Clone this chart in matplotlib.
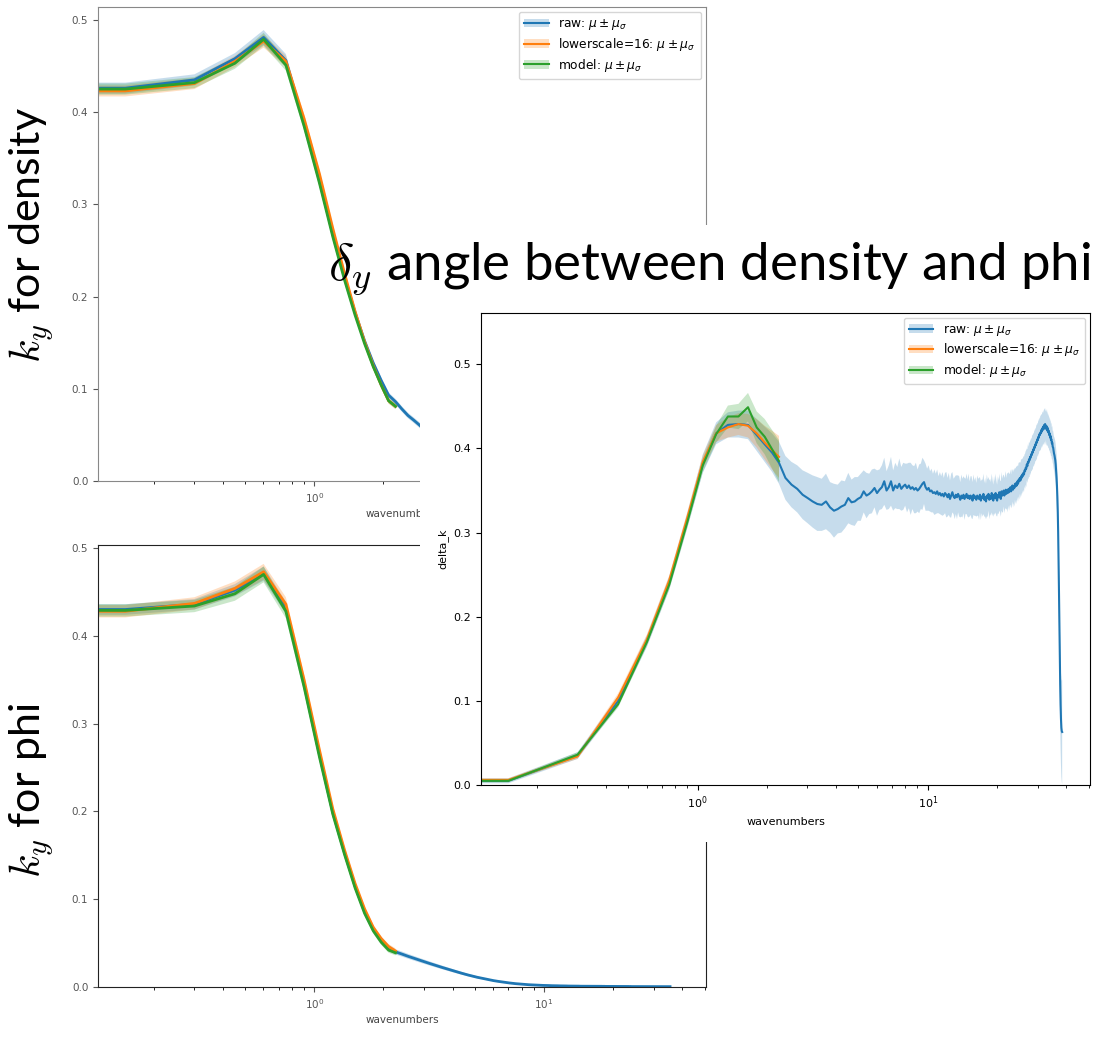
import numpy as np
import matplotlib
matplotlib.use("Agg")
import matplotlib.pyplot as plt
from matplotlib.patches import Rectangle, Patch
from matplotlib.lines import Line2D

W, H = 1107, 1061

# wavenumber grid (k = n * dk), first point k=0 is clipped to the left edge on the log axis
dk = 0.1505
wavenumbers = dk * np.arange(256)

labels = ["raw: $\\mu \\pm \\mu_\\sigma$",
          "lowerscale=16: $\\mu \\pm \\mu_\\sigma$",
          "model: $\\mu \\pm \\mu_\\sigma$"]
colors = ["#1f77b4", "#ff7f0e", "#2ca02c"]

# ---- k_y for density ----
dens_raw = [0.426, 0.426, 0.435, 0.458, 0.481, 0.456, 0.388, 0.326, 0.268, 0.221,
            0.183, 0.152, 0.128, 0.109, 0.093, 0.086, 0.078, 0.071, 0.066, 0.061,
            0.056, 0.052, 0.048, 0.045, 0.042]
dens_raw_sd = [0.006, 0.006, 0.006, 0.006, 0.008, 0.007, 0.006, 0.005, 0.005, 0.004,
               0.004, 0.004, 0.003, 0.003, 0.003, 0.003, 0.003, 0.003, 0.003, 0.003,
               0.003, 0.003, 0.003, 0.003, 0.003]
dens_low = [0.422, 0.423, 0.431, 0.455, 0.477, 0.455, 0.393, 0.333, 0.274, 0.225,
            0.184, 0.151, 0.125, 0.104, 0.087, 0.081]
dens_low_sd = [0.006, 0.006, 0.006, 0.006, 0.007, 0.006, 0.005, 0.004, 0.004, 0.004,
               0.003, 0.003, 0.003, 0.003, 0.003, 0.003]
dens_model = [0.424, 0.425, 0.432, 0.453, 0.479, 0.451, 0.385, 0.323, 0.265, 0.218,
              0.180, 0.149, 0.124, 0.104, 0.087, 0.081]
dens_model_sd = [0.006, 0.006, 0.006, 0.006, 0.007, 0.006, 0.005, 0.004, 0.004, 0.004,
                 0.003, 0.003, 0.003, 0.003, 0.003, 0.003]

# ---- k_y for phi ----
phi_raw = [0.430, 0.430, 0.436, 0.452, 0.471, 0.432, 0.345, 0.265, 0.199, 0.153,
           0.115, 0.086, 0.066, 0.054, 0.045, 0.040,
           0.0375, 0.0350, 0.0328, 0.0307, 0.0288, 0.0270, 0.0253, 0.0237, 0.0222, 0.0208,
           0.0194, 0.0181, 0.0169, 0.0158, 0.0147, 0.0137, 0.0128, 0.0119, 0.0111, 0.0104,
           0.0097, 0.0090, 0.0084, 0.0078, 0.0073, 0.0068, 0.0064, 0.0060, 0.0056, 0.0052,
           0.0049, 0.0046, 0.0043, 0.0040, 0.0038, 0.0036, 0.0034, 0.0032, 0.0030, 0.0028,
           0.0027, 0.0026, 0.0025, 0.0024, 0.0023, 0.0022, 0.0021, 0.0020, 0.0019, 0.0019,
           0.0018, 0.0018, 0.0017, 0.0017, 0.0016, 0.0016, 0.0015, 0.0015, 0.0014, 0.0014,
           0.0014, 0.0013, 0.0013, 0.0013, 0.0012, 0.0012, 0.0012, 0.0012, 0.0011, 0.0011,
           0.0011, 0.0011, 0.0011, 0.0010, 0.0010, 0.0010, 0.0010, 0.0010, 0.0010, 0.0009,
           0.0009, 0.0009, 0.0009, 0.0009, 0.0009, 0.0009, 0.0009, 0.0009, 0.0009, 0.0009,
           0.0009, 0.0008, 0.0009, 0.0008, 0.0008, 0.0008, 0.0008, 0.0008, 0.0008, 0.0008,
           0.0008, 0.0008, 0.0008, 0.0008, 0.0007, 0.0008, 0.0007, 0.0007, 0.0007, 0.0007,
           0.0007, 0.0007, 0.0007, 0.0007, 0.0007, 0.0007, 0.0007, 0.0007, 0.0007, 0.0007,
           0.0007, 0.0006, 0.0007, 0.0006, 0.0006, 0.0006, 0.0006, 0.0006, 0.0006, 0.0006,
           0.0006, 0.0006, 0.0006, 0.0006, 0.0006, 0.0006, 0.0006, 0.0006, 0.0006, 0.0006,
           0.0006, 0.0005, 0.0006, 0.0005, 0.0005, 0.0005, 0.0005, 0.0005, 0.0005, 0.0005,
           0.0005, 0.0005, 0.0005, 0.0005, 0.0005, 0.0005, 0.0005, 0.0005, 0.0005, 0.0005,
           0.0005, 0.0005, 0.0005, 0.0005, 0.0005, 0.0005, 0.0005, 0.0005, 0.0005, 0.0005,
           0.0005, 0.0004, 0.0005, 0.0004, 0.0004, 0.0004, 0.0004, 0.0004, 0.0004, 0.0004,
           0.0004, 0.0004, 0.0004, 0.0004, 0.0004, 0.0004, 0.0004, 0.0004, 0.0004, 0.0004,
           0.0004, 0.0004, 0.0004, 0.0004, 0.0004, 0.0004, 0.0004, 0.0004, 0.0004, 0.0004,
           0.0004, 0.0004, 0.0004, 0.0004, 0.0004, 0.0004, 0.0004, 0.0004, 0.0004, 0.0004,
           0.0004, 0.0004, 0.0004, 0.0004, 0.0004, 0.0004, 0.0004, 0.0004, 0.0004, 0.0004]
phi_raw_sd = [0.006, 0.006, 0.006, 0.007, 0.008, 0.007, 0.006, 0.005, 0.004, 0.004,
              0.003, 0.003, 0.003, 0.003, 0.003, 0.003,
              0.0029, 0.0028, 0.0027, 0.0026, 0.0025, 0.0024, 0.0023, 0.0022, 0.0021, 0.0020,
              0.0019, 0.0018, 0.0017, 0.0016, 0.0015, 0.0014, 0.0013, 0.0012, 0.0011, 0.0010,
              0.0010, 0.0009, 0.0009, 0.0008, 0.0008, 0.0007, 0.0007, 0.0007, 0.0006, 0.0006,
              0.0006, 0.0005, 0.0005, 0.0005, 0.0005, 0.0004, 0.0004, 0.0004, 0.0004, 0.0004,
              0.0004, 0.0003, 0.0003, 0.0003, 0.0003, 0.0003, 0.0003, 0.0003, 0.0003, 0.0003,
              0.0003, 0.0003, 0.0003, 0.0003, 0.0003, 0.0003, 0.0003, 0.0003, 0.0003, 0.0003,
              0.0003, 0.0003, 0.0003, 0.0003, 0.0003, 0.0003, 0.0003, 0.0003, 0.0003, 0.0003,
              0.0003, 0.0003, 0.0003, 0.0003, 0.0003, 0.0003, 0.0003, 0.0003, 0.0003, 0.0003,
              0.0003, 0.0003, 0.0003, 0.0003, 0.0003, 0.0003, 0.0003, 0.0003, 0.0003, 0.0003,
              0.0002, 0.0002, 0.0002, 0.0002, 0.0002, 0.0002, 0.0002, 0.0002, 0.0002, 0.0002,
              0.0002, 0.0002, 0.0002, 0.0002, 0.0002, 0.0002, 0.0002, 0.0002, 0.0002, 0.0002,
              0.0002, 0.0002, 0.0002, 0.0002, 0.0002, 0.0002, 0.0002, 0.0002, 0.0002, 0.0002,
              0.0002, 0.0002, 0.0002, 0.0002, 0.0002, 0.0002, 0.0002, 0.0002, 0.0002, 0.0002,
              0.0002, 0.0002, 0.0002, 0.0002, 0.0002, 0.0002, 0.0002, 0.0002, 0.0002, 0.0002,
              0.0002, 0.0002, 0.0002, 0.0002, 0.0002, 0.0002, 0.0002, 0.0002, 0.0002, 0.0002,
              0.0002, 0.0002, 0.0002, 0.0002, 0.0002, 0.0002, 0.0002, 0.0002, 0.0002, 0.0002,
              0.0002, 0.0002, 0.0002, 0.0002, 0.0002, 0.0002, 0.0002, 0.0002, 0.0002, 0.0002,
              0.0002, 0.0002, 0.0002, 0.0002, 0.0002, 0.0002, 0.0002, 0.0002, 0.0002, 0.0002,
              0.0002, 0.0002, 0.0002, 0.0002, 0.0002, 0.0002, 0.0002, 0.0002, 0.0002, 0.0002,
              0.0002, 0.0002, 0.0002, 0.0002, 0.0002, 0.0002, 0.0002, 0.0002, 0.0002, 0.0002,
              0.0002, 0.0002, 0.0002, 0.0002, 0.0002, 0.0002, 0.0002, 0.0002, 0.0002, 0.0002,
              0.0002, 0.0002, 0.0002, 0.0002, 0.0002, 0.0002, 0.0002, 0.0002, 0.0002, 0.0002]
phi_low = [0.428, 0.428, 0.437, 0.454, 0.473, 0.436, 0.350, 0.270, 0.203, 0.156,
           0.118, 0.089, 0.068, 0.055, 0.046, 0.041]
phi_low_sd = [0.007, 0.007, 0.007, 0.008, 0.009, 0.008, 0.006, 0.005, 0.004, 0.004,
              0.003, 0.003, 0.003, 0.003, 0.003, 0.003]
phi_model = [0.429, 0.429, 0.434, 0.448, 0.470, 0.428, 0.342, 0.262, 0.197, 0.151,
             0.113, 0.084, 0.064, 0.051, 0.042, 0.039]
phi_model_sd = [0.007, 0.007, 0.007, 0.008, 0.009, 0.008, 0.006, 0.005, 0.004, 0.004,
                0.003, 0.003, 0.003, 0.003, 0.003, 0.003]

# ---- delta_y angle between density and phi ----
delta_raw = [0.005, 0.005, 0.035, 0.100, 0.171, 0.240, 0.315, 0.382, 0.418, 0.428,
             0.429, 0.428, 0.416, 0.405, 0.395,
             0.383, 0.365, 0.357, 0.352, 0.345, 0.341, 0.337, 0.334, 0.333, 0.337,
             0.330, 0.326, 0.328, 0.331, 0.333, 0.341, 0.336, 0.337, 0.340, 0.342,
             0.349, 0.344, 0.346, 0.349, 0.353, 0.347, 0.351, 0.354, 0.361, 0.350,
             0.354, 0.361, 0.350, 0.356, 0.353, 0.358, 0.352, 0.355, 0.357, 0.353,
             0.356, 0.352, 0.354, 0.351, 0.353, 0.350, 0.352, 0.355, 0.358, 0.360,
             0.354, 0.351, 0.353, 0.349, 0.350, 0.347, 0.348, 0.346, 0.349, 0.345,
             0.347, 0.344, 0.346, 0.343, 0.347, 0.345, 0.342, 0.346, 0.340, 0.344,
             0.348, 0.343, 0.341, 0.345, 0.342, 0.346, 0.343, 0.339, 0.344, 0.341,
             0.345, 0.340, 0.343, 0.346, 0.341, 0.344, 0.340, 0.344, 0.342, 0.338,
             0.345, 0.341, 0.343, 0.339, 0.344, 0.342, 0.340, 0.345, 0.338, 0.343,
             0.341, 0.346, 0.339, 0.342, 0.337, 0.344, 0.341, 0.346, 0.339, 0.343,
             0.340, 0.347, 0.342, 0.338, 0.345, 0.341, 0.347, 0.341, 0.338, 0.345,
             0.342, 0.348, 0.343, 0.340, 0.349, 0.344, 0.346, 0.350, 0.344, 0.348,
             0.351, 0.346, 0.350, 0.347, 0.352, 0.348, 0.351, 0.354, 0.349, 0.353,
             0.356, 0.351, 0.355, 0.353, 0.358, 0.355, 0.359, 0.356, 0.361, 0.358,
             0.363, 0.361, 0.365, 0.362, 0.367, 0.365, 0.369, 0.367, 0.371, 0.369,
             0.374, 0.373, 0.377, 0.376, 0.381, 0.379, 0.384, 0.383, 0.387, 0.386,
             0.390, 0.389, 0.393, 0.392, 0.396, 0.395, 0.399, 0.398, 0.402, 0.401,
             0.405, 0.404, 0.408, 0.407, 0.411, 0.410, 0.414, 0.413, 0.417, 0.416,
             0.419, 0.418, 0.422, 0.420, 0.424, 0.422, 0.426, 0.423, 0.428, 0.425,
             0.429, 0.424, 0.427, 0.423, 0.426, 0.421, 0.424, 0.419, 0.421, 0.416,
             0.418, 0.413, 0.415, 0.410, 0.411, 0.406, 0.407, 0.402, 0.401, 0.397,
             0.394, 0.392, 0.389, 0.386, 0.381, 0.374, 0.366, 0.356, 0.343, 0.325,
             0.300, 0.268, 0.230, 0.190, 0.152, 0.120, 0.095, 0.078, 0.068, 0.064,
             0.063]
delta_raw_sd = [0.003, 0.003, 0.004, 0.006, 0.007, 0.008, 0.009, 0.011, 0.013, 0.015,
                0.016, 0.017, 0.019, 0.021, 0.023,
                0.025, 0.026, 0.027, 0.028, 0.029, 0.030, 0.031, 0.032, 0.031, 0.033,
                0.030, 0.032, 0.029, 0.031, 0.028, 0.030, 0.027, 0.029, 0.026, 0.028,
                0.025, 0.027, 0.024, 0.026, 0.023, 0.027, 0.024, 0.026, 0.028, 0.023,
                0.026, 0.029, 0.024, 0.027, 0.025, 0.030, 0.026, 0.028, 0.025, 0.029,
                0.027, 0.031, 0.026, 0.028, 0.030, 0.025, 0.029, 0.027, 0.031, 0.026,
                0.028, 0.025, 0.027, 0.024, 0.026, 0.023, 0.027, 0.024, 0.026, 0.022,
                0.025, 0.023, 0.026, 0.022, 0.024, 0.027, 0.023, 0.025, 0.022, 0.026,
                0.024, 0.021, 0.025, 0.023, 0.026, 0.022, 0.024, 0.021, 0.025, 0.023,
                0.022, 0.025, 0.021, 0.024, 0.022, 0.026, 0.021, 0.023, 0.025, 0.022,
                0.024, 0.021, 0.023, 0.020, 0.024, 0.022, 0.025, 0.021, 0.023, 0.020,
                0.022, 0.024, 0.020, 0.023, 0.021, 0.025, 0.022, 0.020, 0.023, 0.021,
                0.020, 0.023, 0.021, 0.019, 0.022, 0.020, 0.023, 0.021, 0.019, 0.022,
                0.020, 0.022, 0.019, 0.021, 0.023, 0.020, 0.022, 0.019, 0.021, 0.020,
                0.022, 0.019, 0.021, 0.023, 0.020, 0.022, 0.019, 0.021, 0.020, 0.022,
                0.019, 0.021, 0.020, 0.022, 0.019, 0.021, 0.020, 0.022, 0.019, 0.021,
                0.020, 0.022, 0.019, 0.021, 0.020, 0.022, 0.019, 0.021, 0.020, 0.021,
                0.019, 0.021, 0.020, 0.022, 0.019, 0.020, 0.021, 0.019, 0.021, 0.020,
                0.019, 0.021, 0.020, 0.019, 0.021, 0.020, 0.019, 0.020, 0.021, 0.019,
                0.020, 0.019, 0.021, 0.020, 0.019, 0.020, 0.021, 0.019, 0.020, 0.019,
                0.020, 0.021, 0.019, 0.020, 0.019, 0.021, 0.020, 0.019, 0.020, 0.021,
                0.019, 0.020, 0.019, 0.020, 0.021, 0.019, 0.020, 0.019, 0.020, 0.019,
                0.020, 0.019, 0.020, 0.019, 0.020, 0.019, 0.020, 0.019, 0.020, 0.020,
                0.020, 0.021, 0.022, 0.023, 0.024, 0.026, 0.028, 0.030, 0.032, 0.034,
                0.036, 0.038, 0.040, 0.043, 0.046, 0.049, 0.052, 0.055, 0.058, 0.060,
                0.062]
delta_low = [0.006, 0.006, 0.034, 0.104, 0.173, 0.243, 0.318, 0.384, 0.418, 0.425,
             0.429, 0.427, 0.418, 0.407, 0.398, 0.390]
delta_low_sd = [0.002, 0.002, 0.003, 0.005, 0.006, 0.006, 0.007, 0.008, 0.010, 0.012,
                0.013, 0.014, 0.017, 0.020, 0.023, 0.025]
delta_model = [0.005, 0.005, 0.036, 0.096, 0.170, 0.238, 0.313, 0.380, 0.417, 0.438,
               0.438, 0.449, 0.425, 0.414, 0.399, 0.385]
delta_model_sd = [0.002, 0.002, 0.003, 0.004, 0.005, 0.006, 0.007, 0.008, 0.010, 0.013,
                  0.015, 0.017, 0.019, 0.021, 0.023, 0.025]


def band(ax, mean, sd, color, lw):
    mean = np.asarray(mean)
    sd = np.asarray(sd)
    k = wavenumbers[:len(mean)]
    ax.fill_between(k, mean - sd, mean + sd, color=color, alpha=0.25, linewidth=0)
    ax.plot(k, mean, color=color, lw=lw)


def legend_handles():
    return [(Patch(facecolor=c, alpha=0.25, edgecolor="none"), Line2D([], [], color=c, lw=1.5))
            for c in colors]


def fig_box(x0, y0, x1, y1):
    # pixel box (top-left origin) -> figure fraction rect
    return [x0 / W, 1 - y1 / H, (x1 - x0) / W, (y1 - y0) / H]


fig = plt.figure(figsize=(W / 100, H / 100), dpi=100)

# left column: k_y for density / k_y for phi
ax1 = fig.add_axes(fig_box(98, 7, 706, 481))
ax2 = fig.add_axes(fig_box(98, 545, 706, 987))
for ax, series, top, edge in [(ax1, [(dens_raw, dens_raw_sd), (dens_low, dens_low_sd), (dens_model, dens_model_sd)], 0.514, "#888888"),
                              (ax2, [(phi_raw, phi_raw_sd), (phi_low, phi_low_sd), (phi_model, phi_model_sd)], 0.5035, "#222222")]:
    for (m, s), c in zip(series, colors):
        band(ax, m, s, c, 2.0)
    ax.set_xscale("log")
    ax.set_xlim(0.1145, 50.7)
    ax.set_ylim(0, top)
    ax.set_yticks([0.0, 0.1, 0.2, 0.3, 0.4, 0.5])
    ax.set_xlabel("wavenumbers", fontsize=7.5, color="#444444", labelpad=3)
    ax.tick_params(labelsize=7.5, labelcolor="#555555", color="#555555")
    for sp in ax.spines.values():
        sp.set_color(edge)
ax1.legend(legend_handles(), labels, loc="upper right", fontsize=8.8,
           handlelength=2.0, borderpad=0.45, labelspacing=0.3, borderaxespad=0.4)

# white cover of the pasted delta panel
fig.add_artist(Rectangle((420 / W, 1 - 842 / H), 687 / W, 617 / H, transform=fig.transFigure,
                         facecolor="white", edgecolor="none", zorder=1))

# right: delta_y panel
ax3 = fig.add_axes(fig_box(481, 313, 1090, 785))
ax3.set_zorder(2)
band(ax3, delta_raw, delta_raw_sd, colors[0], 1.5)
band(ax3, delta_low, delta_low_sd, colors[1], 1.5)
band(ax3, delta_model, delta_model_sd, colors[2], 1.5)
ax3.set_xscale("log")
ax3.set_xlim(0.1145, 50.7)
ax3.set_ylim(0, 0.561)
ax3.set_yticks([0.0, 0.1, 0.2, 0.3, 0.4, 0.5])
ax3.set_xlabel("wavenumbers", fontsize=8)
ax3.set_ylabel("delta_k", fontsize=8)
ax3.tick_params(labelsize=8)
ax3.legend(legend_handles(), labels, loc="upper right", fontsize=8.8,
           handlelength=2.0, borderpad=0.4, labelspacing=0.3, borderaxespad=0.4)

# slide text
big = dict(family=["Lato", "DejaVu Sans"], color="black", zorder=3)
t = fig.text(328 / W, 1 - 280 / H, "$\\delta_y$ angle between density and phi",
             fontsize=38, ha="left", va="baseline", **big)
t.set_math_fontfamily("cm")
t1 = fig.text(32 / W, 1 - 235 / H, "$k_y$ for density", fontsize=31, rotation=90,
              ha="center", va="center", **big)
t1.set_math_fontfamily("cm")
t2 = fig.text(32 / W, 1 - 790 / H, "$k_y$ for phi", fontsize=31, rotation=90,
              ha="center", va="center", **big)
t2.set_math_fontfamily("cm")

fig.savefig("out.png", dpi=100)
